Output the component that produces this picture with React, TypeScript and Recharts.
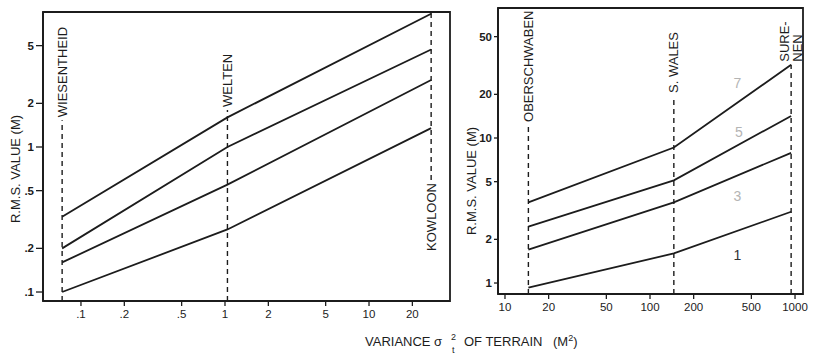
import React from 'react';
import { LineChart, Line, XAxis, YAxis, ReferenceLine, ReferenceArea, ReferenceDot } from 'recharts';

const FONT = '"Liberation Sans", Arial, Helvetica, sans-serif';
const INK = '#1c1c1c';

// ---------- Left panel data ----------
const leftSiteNames = ['WIESENTHEID', 'WELTEN', 'KOWLOON'];
const leftSiteX = [0.074, 1.04, 27];
const leftCurveA = [0.33, 1.6, 8.3];
const leftCurveB = [0.2, 1.0, 4.7];
const leftCurveC = [0.16, 0.55, 2.9];
const leftCurveD = [0.1, 0.27, 1.35];
const leftXTicks = [0.1, 0.2, 0.5, 1, 2, 5, 10, 20];
const leftXTickLabels = ['.1', '.2', '.5', '1', '2', '5', '10', '20'];
const leftYTicks = [0.1, 0.2, 0.5, 1, 2, 5];
const leftYTickLabels = ['.1', '.2', '.5', '1', '2', '5'];

// ---------- Right panel data ----------
const rightSiteNames = ['OBERSCHWABEN', 'S. WALES', 'SURE-|NEN'];
const rightSiteX = [14.5, 146, 940];
const rightCurveA = [3.6, 8.6, 32];
const rightCurveB = [2.45, 5.1, 14.2];
const rightCurveC = [1.7, 3.6, 7.9];
const rightCurveD = [0.93, 1.6, 3.1];
const rightXTicks = [10, 20, 50, 100, 200, 500, 1000];
const rightXTickLabels = ['10', '20', '50', '100', '200', '500', '1000'];
const rightYTicks = [1, 2, 5, 10, 20, 50];
const rightYTickLabels = ['1', '2', '5', '10', '20', '50'];
const rightCurveTags = ['7', '5', '3', '1'];
const rightCurveTagX = [400, 410, 400, 400];
const rightCurveTagY = [24, 11, 4.0, 1.56];

// ---------- layout (styling only) ----------
const LEFT = {
  left: 0, width: 460, height: 320,
  margin: { top: 12, right: 10, bottom: 0, left: 0 },
  yAxisWidth: 43, xAxisHeight: 19, yTickSize: 7,
  xDomain: [0.0545, 36.5], yDomain: [0.0867, 8.53],
  siteSpans: [[0.0867, 1.53], [0.0867, 1.8], [0.592, 8.53]],
  siteDirs: ['up', 'up', 'down'],
};
const RIGHT = {
  left: 460, width: 358, height: 320,
  margin: { top: 8, right: 15, bottom: 0, left: 0 },
  yAxisWidth: 38, xAxisHeight: 26, yTickSize: 4,
  xDomain: [8.95, 1135], yDomain: [0.84, 78.8],
  siteSpans: [[0.84, 12.3], [0.84, 19.5], [0.84, 32]],
  siteDirs: ['up', 'up', 'up'],
};

const toPoints = (xs: number[], ys: number[]) => xs.map((x, i) => ({ x, y: ys[i] }));

function SiteLabel(props: any) {
  const { viewBox, text, dir } = props;
  const vb = viewBox || {};
  const x = vb.x ?? vb.x1 ?? 0;
  const top = vb.y ?? Math.min(vb.y1 ?? 0, vb.y2 ?? 0);
  const h = vb.height ?? Math.abs((vb.y2 ?? 0) - (vb.y1 ?? 0));
  const bottom = top + h;
  const parts = String(text).split('|');
  const style = { fontFamily: FONT, fontSize: 13, fill: INK } as any;
  if (dir === 'down') {
    const ay = bottom + 3;
    return (
      <text x={x} y={ay} transform={`rotate(-90 ${x} ${ay})`} textAnchor="end" dominantBaseline="central" style={style}>
        {parts[0]}
      </text>
    );
  }
  const ay = top - 3;
  if (parts.length === 2) {
    return (
      <g>
        <text x={x - 7} y={ay} transform={`rotate(-90 ${x - 7} ${ay})`} textAnchor="start" dominantBaseline="central" style={style}>{parts[0]}</text>
        <text x={x + 6} y={ay} transform={`rotate(-90 ${x + 6} ${ay})`} textAnchor="start" dominantBaseline="central" style={style}>{parts[1]}</text>
      </g>
    );
  }
  return (
    <text x={x} y={ay} transform={`rotate(-90 ${x} ${ay})`} textAnchor="start" dominantBaseline="central" style={style}>
      {parts[0]}
    </text>
  );
}

function TagLabel(props: any) {
  const { viewBox, text, color } = props;
  const vb = viewBox || {};
  const x = (vb.x ?? 0) + (vb.width ?? 0) / 2;
  const y = (vb.y ?? 0) + (vb.height ?? 0) / 2;
  return (
    <text x={x} y={y} textAnchor="middle" dominantBaseline="central" style={{ fontFamily: FONT, fontSize: 14, fill: color }}>
      {text}
    </text>
  );
}

function Panel(props: any) {
  const { cfg, siteNames, siteX, curves, xTicks, xTickLabels, yTicks, yTickLabels, tags } = props;
  const xFmt = (v: number) => { const i = xTicks.indexOf(v); return i >= 0 ? xTickLabels[i] : String(v); };
  const yFmt = (v: number) => { const i = yTicks.indexOf(v); return i >= 0 ? yTickLabels[i] : String(v); };
  return (
    <div style={{ position: 'absolute', left: cfg.left, top: 0 }}>
      <LineChart width={cfg.width} height={cfg.height} margin={cfg.margin}>
        <XAxis
          dataKey="x" type="number" scale="log" domain={cfg.xDomain} allowDataOverflow
          ticks={xTicks} tickFormatter={xFmt} height={cfg.xAxisHeight}
          tick={{ fontSize: 11.5, fill: INK, fontFamily: FONT }}
          tickLine={{ stroke: INK, strokeWidth: 1.3 }} tickSize={5} tickMargin={4}
          axisLine={{ stroke: INK, strokeWidth: 1.8 }} interval={0}
        />
        <YAxis
          dataKey="y" type="number" scale="log" domain={cfg.yDomain} allowDataOverflow
          ticks={yTicks} tickFormatter={yFmt} width={cfg.yAxisWidth}
          tick={{ fontSize: 11.5, fill: INK, fontFamily: FONT, fontWeight: 'bold' }}
          tickLine={{ stroke: INK, strokeWidth: 1.3 }} tickSize={cfg.yTickSize} tickMargin={2}
          axisLine={{ stroke: INK, strokeWidth: 1.8 }} interval={0}
        />
        <ReferenceArea
          x1={cfg.xDomain[0]} x2={cfg.xDomain[1]} y1={cfg.yDomain[0]} y2={cfg.yDomain[1]}
          fill="none" fillOpacity={0} stroke={INK} strokeWidth={1.8} ifOverflow="visible"
        />
        {siteX.map((sx: number, i: number) => (
          <ReferenceLine
            key={'s' + i}
            segment={[{ x: sx, y: cfg.siteSpans[i][0] }, { x: sx, y: cfg.siteSpans[i][1] }]}
            stroke={INK} strokeWidth={1.4} strokeDasharray="5 4" ifOverflow="visible"
            label={<SiteLabel text={siteNames[i]} dir={cfg.siteDirs[i]} />}
          />
        ))}
        {curves.map((c: number[], i: number) => (
          <Line
            key={'c' + i} data={toPoints(siteX, c)} dataKey="y" type="linear"
            stroke={INK} strokeWidth={1.8} dot={false} isAnimationActive={false}
          />
        ))}
        {tags && tags.text.map((t: string, i: number) => (
          <ReferenceDot
            key={'t' + i} x={tags.x[i]} y={tags.y[i]} r={0} stroke="none" fill="none" ifOverflow="visible"
            label={<TagLabel text={t} color={i === 3 ? '#333' : '#b4b4b4'} />}
          />
        ))}
      </LineChart>
    </div>
  );
}

export default function App() {
  const textStyle = { fontFamily: FONT, fill: INK } as any;
  return (
    <div style={{ position: 'absolute', left: 0, top: 0, width: 818, height: 355, background: '#fff', overflow: 'hidden' }}>
      <Panel
        cfg={LEFT} siteNames={leftSiteNames} siteX={leftSiteX}
        curves={[leftCurveA, leftCurveB, leftCurveC, leftCurveD]}
        xTicks={leftXTicks} xTickLabels={leftXTickLabels}
        yTicks={leftYTicks} yTickLabels={leftYTickLabels}
      />
      <Panel
        cfg={RIGHT} siteNames={rightSiteNames} siteX={rightSiteX}
        curves={[rightCurveA, rightCurveB, rightCurveC, rightCurveD]}
        xTicks={rightXTicks} xTickLabels={rightXTickLabels}
        yTicks={rightYTicks} yTickLabels={rightYTickLabels}
        tags={{ text: rightCurveTags, x: rightCurveTagX, y: rightCurveTagY }}
      />
      <svg width={818} height={355} style={{ position: 'absolute', left: 0, top: 0, pointerEvents: 'none' }}>
        <text x={15} y={169} transform="rotate(-90 15 169)" textAnchor="middle" dominantBaseline="central" fontSize={13} style={textStyle}>
          R.M.S. VALUE (M)
        </text>
        <text x={471} y={181} transform="rotate(-90 471 181)" textAnchor="middle" dominantBaseline="central" fontSize={13} style={textStyle}>
          R.M.S. VALUE (M)
        </text>
        <text x={365} y={346} fontSize={13} style={textStyle}>VARIANCE σ</text>
        <text x={451} y={340} fontSize={9} style={textStyle}>2</text>
        <text x={452} y={353} fontSize={9} style={textStyle}>t</text>
        <text x={464} y={346} fontSize={13} style={textStyle}>OF TERRAIN</text>
        <text x={553} y={346} fontSize={13} style={textStyle}>
          (M<tspan dy={-5} fontSize={9}>2</tspan><tspan dy={5}>)</tspan>
        </text>
      </svg>
    </div>
  );
}
